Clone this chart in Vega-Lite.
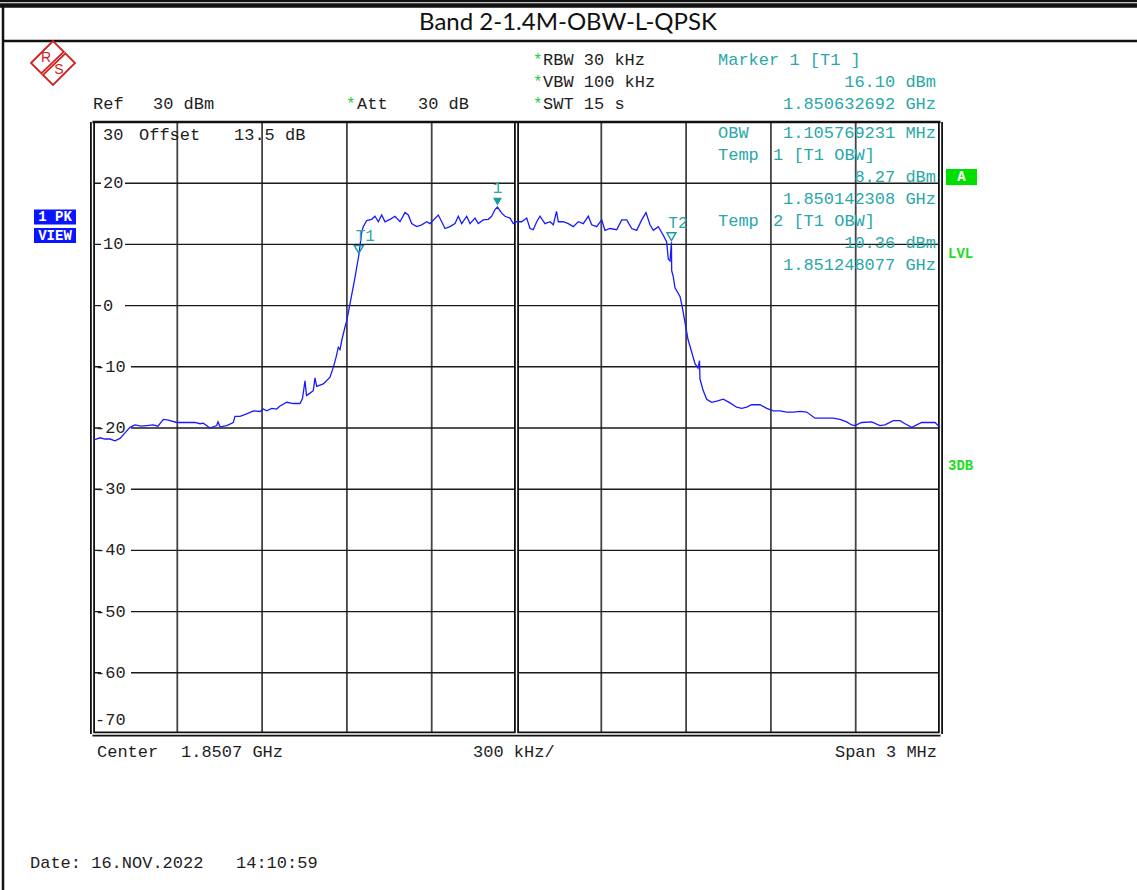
{
  "$schema": "https://vega.github.io/schema/vega-lite/v6.json",
  "width": 848,
  "height": 612,
  "autosize": {"type": "none"},
  "padding": {"left": 92.5, "top": 122, "right": 196.5, "bottom": 156},
  "background": "white",
  "config": {"view": {"stroke": null}},
  "datasets": {
    "trace": [
      {"f":1849.2028,"L":-22.0},{"f":1849.2265,"L":-21.6},{"f":1849.2442,"L":-21.8},{"f":1849.2619,"L":-21.8},{"f":1849.2796,"L":-22.1},{"f":1849.2973,"L":-21.7},{"f":1849.3150,"L":-20.8},{"f":1849.3327,"L":-19.9},{"f":1849.3504,"L":-19.5},{"f":1849.3716,"L":-19.7},{"f":1849.3917,"L":-19.6},{"f":1849.4140,"L":-19.5},{"f":1849.4317,"L":-19.7},{"f":1849.4505,"L":-18.6},{"f":1849.4682,"L":-18.7},{"f":1849.4979,"L":-19.1},{"f":1849.5308,"L":-19.1},{"f":1849.5626,"L":-19.1},{"f":1849.5803,"L":-19.3},{"f":1849.5920,"L":-19.2},{"f":1849.6157,"L":-20.0},{"f":1849.6394,"L":-19.6},{"f":1849.6440,"L":-19.0},{"f":1849.6511,"L":-19.8},{"f":1849.6748,"L":-19.6},{"f":1849.6981,"L":-19.1},{"f":1849.7041,"L":-18.1},{"f":1849.7218,"L":-18.1},{"f":1849.7455,"L":-17.7},{"f":1849.7689,"L":-17.2},{"f":1849.7926,"L":-17.3},{"f":1849.8042,"L":-16.9},{"f":1849.8163,"L":-17.2},{"f":1849.8340,"L":-16.8},{"f":1849.8516,"L":-16.9},{"f":1849.8633,"L":-16.4},{"f":1849.8870,"L":-15.8},{"f":1849.9104,"L":-16.0},{"f":1849.9341,"L":-16.0},{"f":1849.9429,"L":-15.2},{"f":1849.9518,"L":-12.3},{"f":1849.9571,"L":-14.7},{"f":1849.9695,"L":-14.3},{"f":1849.9811,"L":-13.9},{"f":1849.9871,"L":-11.8},{"f":1849.9932,"L":-13.2},{"f":1850.0165,"L":-12.8},{"f":1850.0402,"L":-11.7},{"f":1850.0519,"L":-10.1},{"f":1850.0614,"L":-8.5},{"f":1850.0696,"L":-6.8},{"f":1850.0756,"L":-7.2},{"f":1850.0827,"L":-5.5},{"f":1850.0933,"L":-3.5},{"f":1850.0993,"L":-2.5},{"f":1850.1110,"L":0.3},{"f":1850.1287,"L":4.6},{"f":1850.1423,"L":8.27},{"f":1850.1524,"L":12.0},{"f":1850.1580,"L":12.9},{"f":1850.1700,"L":13.9},{"f":1850.1877,"L":14.1},{"f":1850.1994,"L":14.6},{"f":1850.2111,"L":13.7},{"f":1850.2231,"L":14.8},{"f":1850.2348,"L":13.7},{"f":1850.2525,"L":14.1},{"f":1850.2702,"L":14.6},{"f":1850.2878,"L":13.7},{"f":1850.3055,"L":15.2},{"f":1850.3172,"L":14.8},{"f":1850.3292,"L":13.4},{"f":1850.3469,"L":12.9},{"f":1850.3646,"L":13.2},{"f":1850.3823,"L":13.7},{"f":1850.3940,"L":13.4},{"f":1850.4233,"L":14.8},{"f":1850.4354,"L":13.7},{"f":1850.4470,"L":12.6},{"f":1850.4647,"L":12.9},{"f":1850.4824,"L":13.4},{"f":1850.4941,"L":14.6},{"f":1850.5061,"L":13.4},{"f":1850.5238,"L":14.6},{"f":1850.5355,"L":13.4},{"f":1850.5532,"L":14.3},{"f":1850.5648,"L":13.4},{"f":1850.5825,"L":14.0},{"f":1850.6002,"L":14.1},{"f":1850.6122,"L":14.6},{"f":1850.6239,"L":15.7},{"f":1850.6327,"L":16.1},{"f":1850.6476,"L":15.1},{"f":1850.6593,"L":14.6},{"f":1850.6770,"L":14.3},{"f":1850.6887,"L":13.4},{"f":1850.7007,"L":13.7},{"f":1850.7184,"L":13.7},{"f":1850.7361,"L":14.3},{"f":1850.7477,"L":12.6},{"f":1850.7594,"L":12.4},{"f":1850.7714,"L":13.7},{"f":1850.7831,"L":14.6},{"f":1850.8008,"L":13.4},{"f":1850.8185,"L":13.7},{"f":1850.8302,"L":13.2},{"f":1850.8415,"L":15.4},{"f":1850.8479,"L":13.7},{"f":1850.8656,"L":13.7},{"f":1850.8832,"L":13.4},{"f":1850.9009,"L":12.9},{"f":1850.9186,"L":13.7},{"f":1850.9363,"L":13.4},{"f":1850.9540,"L":14.6},{"f":1850.9660,"L":13.2},{"f":1850.9837,"L":12.9},{"f":1851.0014,"L":14.0},{"f":1851.0131,"L":12.3},{"f":1851.0308,"L":12.6},{"f":1851.0545,"L":12.4},{"f":1851.0722,"L":14.0},{"f":1851.0898,"L":14.0},{"f":1851.1075,"L":12.6},{"f":1851.1252,"L":12.3},{"f":1851.1429,"L":14.0},{"f":1851.1581,"L":15.2},{"f":1851.1723,"L":13.2},{"f":1851.1839,"L":12.3},{"f":1851.2016,"L":12.9},{"f":1851.2193,"L":11.5},{"f":1851.2313,"L":10.4},{"f":1851.2370,"L":7.6},{"f":1851.2431,"L":7.3},{"f":1851.2481,"L":10.36},{"f":1851.2490,"L":5.7},{"f":1851.2547,"L":4.7},{"f":1851.2607,"L":2.9},{"f":1851.2784,"L":1.5},{"f":1851.2855,"L":0.0},{"f":1851.3067,"L":-5.5},{"f":1851.3315,"L":-9.5},{"f":1851.3421,"L":-10.2},{"f":1851.3474,"L":-9.0},{"f":1851.3491,"L":-12.0},{"f":1851.3598,"L":-13.8},{"f":1851.3728,"L":-15.3},{"f":1851.3905,"L":-15.8},{"f":1851.4082,"L":-15.6},{"f":1851.4316,"L":-15.3},{"f":1851.4553,"L":-15.9},{"f":1851.4790,"L":-16.6},{"f":1851.4967,"L":-16.8},{"f":1851.5144,"L":-16.6},{"f":1851.5320,"L":-16.2},{"f":1851.5614,"L":-16.2},{"f":1851.5851,"L":-16.8},{"f":1851.6085,"L":-17.2},{"f":1851.6322,"L":-17.2},{"f":1851.6559,"L":-17.4},{"f":1851.6792,"L":-17.4},{"f":1851.7029,"L":-17.3},{"f":1851.7266,"L":-17.4},{"f":1851.7560,"L":-18.4},{"f":1851.7854,"L":-18.4},{"f":1851.8207,"L":-18.4},{"f":1851.8444,"L":-18.6},{"f":1851.8681,"L":-19.0},{"f":1851.8858,"L":-19.5},{"f":1851.8975,"L":-19.6},{"f":1851.9212,"L":-19.1},{"f":1851.9566,"L":-19.0},{"f":1851.9859,"L":-19.6},{"f":1852.0036,"L":-19.5},{"f":1852.0330,"L":-18.8},{"f":1852.0567,"L":-18.8},{"f":1852.0744,"L":-19.3},{"f":1852.0981,"L":-19.9},{"f":1852.1158,"L":-19.5},{"f":1852.1335,"L":-19.1},{"f":1852.1568,"L":-19.1},{"f":1852.1805,"L":-19.1},{"f":1852.1982,"L":-19.9}
    ],
    "markers": [
      {"f":1850.6327,"L":16.10,"m":"1"},
      {"f":1850.1423,"L":8.27,"m":"T1"},
      {"f":1851.2481,"L":10.36,"m":"T2"}
    ],
    "vgrid": [{"f":1849.5},{"f":1849.8},{"f":1850.1},{"f":1850.4},{"f":1851.0},{"f":1851.3},{"f":1851.6},{"f":1851.9}],
    "hgrid": [{"L":20},{"L":10},{"L":0},{"L":-10},{"L":-20},{"L":-30},{"L":-40},{"L":-50},{"L":-60}],
    "posLabels": [{"L":20,"t":"20"},{"L":10,"t":"10"},{"L":0,"t":"0"}],
    "negLabels": [{"L":-10,"t":"-10"},{"L":-20,"t":"-20"},{"L":-30,"t":"-30"},{"L":-40,"t":"-40"},{"L":-50,"t":"-50"},{"L":-60,"t":"-60"}],
    "frameHeavy": [
      {"f":1849.2,"f2":1849.2,"L":30,"L2":-70},
      {"f":1852.2,"f2":1852.2,"L":30,"L2":-70},
      {"f":1849.2,"f2":1852.2,"L":-70,"L2":-70},
      {"f":1850.7,"f2":1850.7,"L":30,"L2":-70}
    ],
    "frameThin": [
      {"f":1849.2,"f2":1852.2,"L":30,"L2":30},
      {"f":1848.8728,"f2":1852.8951,"L":49.77,"L2":49.77},
      {"f":1848.8834,"f2":1852.8951,"L":43.24,"L2":43.24},
      {"f":1848.8834,"f2":1848.8834,"L":49.28,"L2":-95.49}
    ],
    "frameThick": [
      {"f":1848.8728,"f2":1852.8951,"L":49.04,"L2":49.04}
    ],
    "darkLeft": [
      {"f":1849.2018,"L":32.94,"t":"Ref"},
      {"f":1849.4140,"L":32.94,"t":"30 dBm"},
      {"f":1850.1357,"L":32.94,"t":"Att"},
      {"f":1850.3515,"L":32.94,"t":"30 dB"},
      {"f":1850.7937,"L":40.13,"t":"RBW 30 kHz"},
      {"f":1850.7937,"L":36.54,"t":"VBW 100 kHz"},
      {"f":1850.7937,"L":32.94,"t":"SWT 15 s"},
      {"f":1849.2371,"L":27.88,"t":"30"},
      {"f":1849.3645,"L":27.88,"t":"Offset"},
      {"f":1849.7006,"L":27.88,"t":"13.5 dB"},
      {"f":1849.2159,"L":-72.94,"t":"Center"},
      {"f":1849.5131,"L":-72.94,"t":"1.8507 GHz"},
      {"f":1850.5461,"L":-72.94,"t":"300 kHz/"},
      {"f":1848.9789,"L":-91.08,"t":"Date: 16.NOV.2022"},
      {"f":1849.7077,"L":-91.08,"t":"14:10:59"},
      {"f":1849.2088,"L":-67.71,"t":"-70"}
    ],
    "darkRight": [
      {"f":1852.1876,"L":-72.94,"t":"Span 3 MHz"}
    ],
    "tealLeft": [
      {"f":1851.4128,"L":40.13,"t":"Marker 1 [T1 ]"},
      {"f":1851.4128,"L":28.20,"t":"OBW"},
      {"f":1851.4128,"L":24.61,"t":"Temp"},
      {"f":1851.6074,"L":24.61,"t":"1 [T1 OBW]"},
      {"f":1851.4128,"L":13.82,"t":"Temp"},
      {"f":1851.6074,"L":13.82,"t":"2 [T1 OBW]"}
    ],
    "tealRight": [
      {"f":1852.1841,"L":36.54,"t":"16.10 dBm"},
      {"f":1852.1841,"L":32.94,"t":"1.850632692 GHz"},
      {"f":1852.1841,"L":28.20,"t":"1.105769231 MHz"},
      {"f":1852.1841,"L":21.01,"t":"8.27 dBm"},
      {"f":1852.1841,"L":17.42,"t":"1.850142308 GHz"},
      {"f":1852.1841,"L":10.23,"t":"10.36 dBm"},
      {"f":1852.1841,"L":6.63,"t":"1.851248077 GHz"}
    ],
    "stars": [
      {"f":1850.7583,"L":40.13},{"f":1850.7583,"L":36.54},{"f":1850.7583,"L":32.94},{"f":1850.0968,"L":32.94}
    ],
    "greenLabels": [
      {"f":1852.2266,"L":8.43,"t":"LVL"},
      {"f":1852.2266,"L":-26.21,"t":"3DB"}
    ],
    "aBox": [{"f":1852.2743,"L":21.01,"t":"A"}],
    "blueBoxes": [
      {"f":1849.0673,"L":14.48,"t":"1 PK"},
      {"f":1849.0673,"L":11.45,"t":"VIEW"}
    ],
    "title": [{"f":1850.8822,"L":46.18,"t":"Band 2-1.4M-OBW-L-QPSK"}],
    "logo": [{"f":1849.0603,"L":39.64}],
    "logoStripe": [{"f":1849.1017,"f2":1849.0224,"L":41.36,"L2":37.84}],
    "logoText": [{"f":1849.0355,"L":40.46,"t":"R"},{"f":1849.0815,"L":38.50,"t":"S"}]
  },
  "layer": [
    {
      "data": {"name": "vgrid"},
      "mark": {"type": "rule", "color": "#444444", "strokeWidth": 1.8},
      "encoding": {
        "x": {"field": "f", "type": "quantitative", "scale": {"domain": [1849.2, 1852.2], "nice": false, "zero": false}, "axis": null},
        "y": {"datum": 30, "type": "quantitative", "scale": {"domain": [-70, 30], "nice": false, "zero": false}, "axis": null},
        "y2": {"datum": -70}
      }
    },
    {
      "data": {"name": "hgrid"},
      "mark": {"type": "rule", "color": "#1a1a1a", "strokeWidth": 1.4},
      "encoding": {
        "x": {"datum": 1849.2, "type": "quantitative", "scale": {"domain": [1849.2, 1852.2], "nice": false, "zero": false}, "axis": null},
        "x2": {"datum": 1852.2},
        "y": {"field": "L", "type": "quantitative", "scale": {"domain": [-70, 30], "nice": false, "zero": false}, "axis": null}
      }
    },
    {
      "data": {"name": "posLabels"},
      "mark": {"type": "point", "shape": "M-1,-0.58H1V0.58H-1Z", "size": 576, "filled": true, "color": "white", "opacity": 1, "strokeWidth": 0},
      "encoding": {
        "x": {"datum": 1849.2725, "type": "quantitative", "scale": {"domain": [1849.2, 1852.2], "nice": false, "zero": false}, "axis": null},
        "y": {"field": "L", "type": "quantitative", "scale": {"domain": [-70, 30], "nice": false, "zero": false}, "axis": null}
      }
    },
    {
      "data": {"name": "negLabels"},
      "mark": {"type": "point", "shape": "M-1,-0.47H1V0.47H-1Z", "size": 900, "filled": true, "color": "white", "opacity": 1, "strokeWidth": 0},
      "encoding": {
        "x": {"datum": 1849.2831, "type": "quantitative", "scale": {"domain": [1849.2, 1852.2], "nice": false, "zero": false}, "axis": null},
        "y": {"field": "L", "type": "quantitative", "scale": {"domain": [-70, 30], "nice": false, "zero": false}, "axis": null}
      }
    },
    {
      "data": {"name": "posLabels"},
      "mark": {"type": "text", "align": "left", "baseline": "middle", "font": "Liberation Mono", "fontSize": 17, "color": "#1e1e1e"},
      "encoding": {
        "x": {"datum": 1849.2371, "type": "quantitative", "scale": {"domain": [1849.2, 1852.2], "nice": false, "zero": false}, "axis": null},
        "y": {"field": "L", "type": "quantitative", "scale": {"domain": [-70, 30], "nice": false, "zero": false}, "axis": null},
        "text": {"field": "t"}
      }
    },
    {
      "data": {"name": "negLabels"},
      "mark": {"type": "text", "align": "left", "baseline": "middle", "font": "Liberation Mono", "fontSize": 17, "color": "#1e1e1e"},
      "encoding": {
        "x": {"datum": 1849.2088, "type": "quantitative", "scale": {"domain": [1849.2, 1852.2], "nice": false, "zero": false}, "axis": null},
        "y": {"field": "L", "type": "quantitative", "scale": {"domain": [-70, 30], "nice": false, "zero": false}, "axis": null},
        "text": {"field": "t"}
      }
    },
    {
      "data": {"name": "frameHeavy"},
      "mark": {"type": "rule", "color": "#111111", "strokeWidth": 5},
      "encoding": {
        "x": {"field": "f", "type": "quantitative", "scale": {"domain": [1849.2, 1852.2], "nice": false, "zero": false}, "axis": null},
        "x2": {"field": "f2"},
        "y": {"field": "L", "type": "quantitative", "scale": {"domain": [-70, 30], "nice": false, "zero": false}, "axis": null},
        "y2": {"field": "L2"}
      }
    },
    {
      "data": {"name": "frameHeavy"},
      "mark": {"type": "rule", "color": "white", "strokeWidth": 1.4},
      "encoding": {
        "x": {"field": "f", "type": "quantitative", "scale": {"domain": [1849.2, 1852.2], "nice": false, "zero": false}, "axis": null},
        "x2": {"field": "f2"},
        "y": {"field": "L", "type": "quantitative", "scale": {"domain": [-70, 30], "nice": false, "zero": false}, "axis": null},
        "y2": {"field": "L2"}
      }
    },
    {
      "data": {"name": "frameThin"},
      "mark": {"type": "rule", "color": "#111111", "strokeWidth": 2.5},
      "encoding": {
        "x": {"field": "f", "type": "quantitative", "scale": {"domain": [1849.2, 1852.2], "nice": false, "zero": false}, "axis": null},
        "x2": {"field": "f2"},
        "y": {"field": "L", "type": "quantitative", "scale": {"domain": [-70, 30], "nice": false, "zero": false}, "axis": null},
        "y2": {"field": "L2"}
      }
    },
    {
      "data": {"name": "frameThick"},
      "mark": {"type": "rule", "color": "#111111", "strokeWidth": 4.5},
      "encoding": {
        "x": {"field": "f", "type": "quantitative", "scale": {"domain": [1849.2, 1852.2], "nice": false, "zero": false}, "axis": null},
        "x2": {"field": "f2"},
        "y": {"field": "L", "type": "quantitative", "scale": {"domain": [-70, 30], "nice": false, "zero": false}, "axis": null},
        "y2": {"field": "L2"}
      }
    },
    {
      "data": {"name": "trace"},
      "mark": {"type": "line", "color": "#1a1aff", "strokeWidth": 1.3},
      "encoding": {
        "x": {"field": "f", "type": "quantitative", "scale": {"domain": [1849.2, 1852.2], "nice": false, "zero": false}, "axis": null},
        "y": {"field": "L", "type": "quantitative", "scale": {"domain": [-70, 30], "nice": false, "zero": false}, "axis": null}
      }
    },
    {
      "data": {"name": "markers"},
      "transform": [{"filter": "datum.m === '1'"}],
      "mark": {"type": "point", "shape": "triangle-down", "size": 80, "filled": true, "color": "#1a9a9a", "opacity": 1, "yOffset": -5.5},
      "encoding": {
        "x": {"field": "f", "type": "quantitative", "scale": {"domain": [1849.2, 1852.2], "nice": false, "zero": false}, "axis": null},
        "y": {"field": "L", "type": "quantitative", "scale": {"domain": [-70, 30], "nice": false, "zero": false}, "axis": null}
      }
    },
    {
      "data": {"name": "markers"},
      "transform": [{"filter": "datum.m !== '1'"}],
      "mark": {"type": "point", "shape": "triangle-down", "size": 80, "filled": false, "color": "#1a9a9a", "strokeWidth": 1.4, "opacity": 1, "yOffset": -5.5},
      "encoding": {
        "x": {"field": "f", "type": "quantitative", "scale": {"domain": [1849.2, 1852.2], "nice": false, "zero": false}, "axis": null},
        "y": {"field": "L", "type": "quantitative", "scale": {"domain": [-70, 30], "nice": false, "zero": false}, "axis": null}
      }
    },
    {
      "data": {"name": "markers"},
      "transform": [{"filter": "datum.m === '1'"}],
      "mark": {"type": "text", "align": "center", "baseline": "middle", "font": "Liberation Mono", "fontSize": 16, "color": "#2aa8a8", "dy": -19},
      "encoding": {
        "x": {"field": "f", "type": "quantitative", "scale": {"domain": [1849.2, 1852.2], "nice": false, "zero": false}, "axis": null},
        "y": {"field": "L", "type": "quantitative", "scale": {"domain": [-70, 30], "nice": false, "zero": false}, "axis": null},
        "text": {"field": "m"}
      }
    },
    {
      "data": {"name": "markers"},
      "transform": [{"filter": "datum.m !== '1'"}],
      "mark": {"type": "text", "align": "center", "baseline": "middle", "font": "Liberation Mono", "fontSize": 16, "color": "#2aa8a8", "dy": -19, "dx": 6.5},
      "encoding": {
        "x": {"field": "f", "type": "quantitative", "scale": {"domain": [1849.2, 1852.2], "nice": false, "zero": false}, "axis": null},
        "y": {"field": "L", "type": "quantitative", "scale": {"domain": [-70, 30], "nice": false, "zero": false}, "axis": null},
        "text": {"field": "m"}
      }
    },
    {
      "data": {"name": "darkLeft"},
      "mark": {"type": "text", "align": "left", "baseline": "middle", "font": "Liberation Mono", "fontSize": 17, "color": "#1e1e1e"},
      "encoding": {
        "x": {"field": "f", "type": "quantitative", "scale": {"domain": [1849.2, 1852.2], "nice": false, "zero": false}, "axis": null},
        "y": {"field": "L", "type": "quantitative", "scale": {"domain": [-70, 30], "nice": false, "zero": false}, "axis": null},
        "text": {"field": "t"}
      }
    },
    {
      "data": {"name": "darkRight"},
      "mark": {"type": "text", "align": "right", "baseline": "middle", "font": "Liberation Mono", "fontSize": 17, "color": "#1e1e1e"},
      "encoding": {
        "x": {"field": "f", "type": "quantitative", "scale": {"domain": [1849.2, 1852.2], "nice": false, "zero": false}, "axis": null},
        "y": {"field": "L", "type": "quantitative", "scale": {"domain": [-70, 30], "nice": false, "zero": false}, "axis": null},
        "text": {"field": "t"}
      }
    },
    {
      "data": {"name": "tealLeft"},
      "mark": {"type": "text", "align": "left", "baseline": "middle", "font": "Liberation Mono", "fontSize": 17, "color": "#2aa8a8"},
      "encoding": {
        "x": {"field": "f", "type": "quantitative", "scale": {"domain": [1849.2, 1852.2], "nice": false, "zero": false}, "axis": null},
        "y": {"field": "L", "type": "quantitative", "scale": {"domain": [-70, 30], "nice": false, "zero": false}, "axis": null},
        "text": {"field": "t"}
      }
    },
    {
      "data": {"name": "tealRight"},
      "mark": {"type": "text", "align": "right", "baseline": "middle", "font": "Liberation Mono", "fontSize": 17, "color": "#2aa8a8"},
      "encoding": {
        "x": {"field": "f", "type": "quantitative", "scale": {"domain": [1849.2, 1852.2], "nice": false, "zero": false}, "axis": null},
        "y": {"field": "L", "type": "quantitative", "scale": {"domain": [-70, 30], "nice": false, "zero": false}, "axis": null},
        "text": {"field": "t"}
      }
    },
    {
      "data": {"name": "stars"},
      "mark": {"type": "text", "align": "left", "baseline": "middle", "font": "Liberation Mono", "fontSize": 16, "color": "#22cc44", "text": "*"},
      "encoding": {
        "x": {"field": "f", "type": "quantitative", "scale": {"domain": [1849.2, 1852.2], "nice": false, "zero": false}, "axis": null},
        "y": {"field": "L", "type": "quantitative", "scale": {"domain": [-70, 30], "nice": false, "zero": false}, "axis": null}
      }
    },
    {
      "data": {"name": "greenLabels"},
      "mark": {"type": "text", "align": "left", "baseline": "middle", "font": "Liberation Mono", "fontSize": 14, "fontWeight": "bold", "color": "#1edc1e"},
      "encoding": {
        "x": {"field": "f", "type": "quantitative", "scale": {"domain": [1849.2, 1852.2], "nice": false, "zero": false}, "axis": null},
        "y": {"field": "L", "type": "quantitative", "scale": {"domain": [-70, 30], "nice": false, "zero": false}, "axis": null},
        "text": {"field": "t"}
      }
    },
    {
      "data": {"name": "aBox"},
      "mark": {"type": "point", "shape": "M-1,-0.52H1V0.52H-1Z", "size": 961, "filled": true, "color": "#00e000", "opacity": 1, "strokeWidth": 0},
      "encoding": {
        "x": {"field": "f", "type": "quantitative", "scale": {"domain": [1849.2, 1852.2], "nice": false, "zero": false}, "axis": null},
        "y": {"field": "L", "type": "quantitative", "scale": {"domain": [-70, 30], "nice": false, "zero": false}, "axis": null}
      }
    },
    {
      "data": {"name": "aBox"},
      "mark": {"type": "text", "align": "center", "baseline": "middle", "font": "Liberation Mono", "fontSize": 14, "fontWeight": "bold", "color": "white"},
      "encoding": {
        "x": {"field": "f", "type": "quantitative", "scale": {"domain": [1849.2, 1852.2], "nice": false, "zero": false}, "axis": null},
        "y": {"field": "L", "type": "quantitative", "scale": {"domain": [-70, 30], "nice": false, "zero": false}, "axis": null},
        "text": {"field": "t"}
      }
    },
    {
      "data": {"name": "blueBoxes"},
      "mark": {"type": "point", "shape": "M-1,-0.36H1V0.36H-1Z", "size": 1764, "filled": true, "color": "#0a14ff", "opacity": 1, "strokeWidth": 0},
      "encoding": {
        "x": {"field": "f", "type": "quantitative", "scale": {"domain": [1849.2, 1852.2], "nice": false, "zero": false}, "axis": null},
        "y": {"field": "L", "type": "quantitative", "scale": {"domain": [-70, 30], "nice": false, "zero": false}, "axis": null}
      }
    },
    {
      "data": {"name": "blueBoxes"},
      "mark": {"type": "text", "align": "center", "baseline": "middle", "font": "Liberation Mono", "fontSize": 14, "fontWeight": "bold", "color": "white"},
      "encoding": {
        "x": {"field": "f", "type": "quantitative", "scale": {"domain": [1849.2, 1852.2], "nice": false, "zero": false}, "axis": null},
        "y": {"field": "L", "type": "quantitative", "scale": {"domain": [-70, 30], "nice": false, "zero": false}, "axis": null},
        "text": {"field": "t"}
      }
    },
    {
      "data": {"name": "title"},
      "mark": {"type": "text", "align": "center", "baseline": "middle", "font": "Lato", "fontSize": 24, "color": "#111111"},
      "encoding": {
        "x": {"field": "f", "type": "quantitative", "scale": {"domain": [1849.2, 1852.2], "nice": false, "zero": false}, "axis": null},
        "y": {"field": "L", "type": "quantitative", "scale": {"domain": [-70, 30], "nice": false, "zero": false}, "axis": null},
        "text": {"field": "t"}
      }
    },
    {
      "data": {"name": "logo"},
      "mark": {"type": "point", "shape": "diamond", "size": 1936, "filled": false, "color": "#d42020", "strokeWidth": 1.8, "opacity": 1},
      "encoding": {
        "x": {"field": "f", "type": "quantitative", "scale": {"domain": [1849.2, 1852.2], "nice": false, "zero": false}, "axis": null},
        "y": {"field": "L", "type": "quantitative", "scale": {"domain": [-70, 30], "nice": false, "zero": false}, "axis": null}
      }
    },
    {
      "data": {"name": "logoStripe"},
      "mark": {"type": "rule", "color": "#d42020", "strokeWidth": 4},
      "encoding": {
        "x": {"field": "f", "type": "quantitative", "scale": {"domain": [1849.2, 1852.2], "nice": false, "zero": false}, "axis": null},
        "x2": {"field": "f2"},
        "y": {"field": "L", "type": "quantitative", "scale": {"domain": [-70, 30], "nice": false, "zero": false}, "axis": null},
        "y2": {"field": "L2"}
      }
    },
    {
      "data": {"name": "logoStripe"},
      "mark": {"type": "rule", "color": "white", "strokeWidth": 0.8},
      "encoding": {
        "x": {"field": "f", "type": "quantitative", "scale": {"domain": [1849.2, 1852.2], "nice": false, "zero": false}, "axis": null},
        "x2": {"field": "f2"},
        "y": {"field": "L", "type": "quantitative", "scale": {"domain": [-70, 30], "nice": false, "zero": false}, "axis": null},
        "y2": {"field": "L2"}
      }
    },
    {
      "data": {"name": "logoText"},
      "mark": {"type": "text", "align": "center", "baseline": "middle", "font": "Liberation Sans", "fontSize": 14, "color": "#d42020"},
      "encoding": {
        "x": {"field": "f", "type": "quantitative", "scale": {"domain": [1849.2, 1852.2], "nice": false, "zero": false}, "axis": null},
        "y": {"field": "L", "type": "quantitative", "scale": {"domain": [-70, 30], "nice": false, "zero": false}, "axis": null},
        "text": {"field": "t"}
      }
    }
  ]
}
